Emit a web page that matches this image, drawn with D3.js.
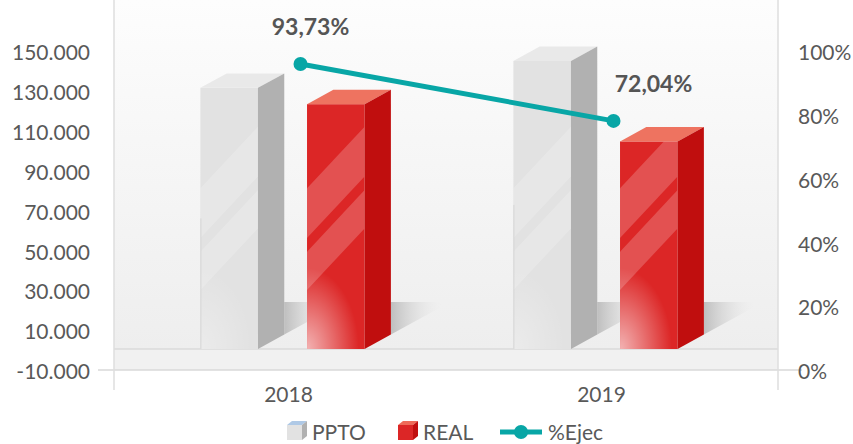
<!DOCTYPE html>
<html>
<head>
<meta charset="utf-8">
<script src="https://cdn.jsdelivr.net/npm/d3@7"></script>
<style>
body{margin:0;background:#fff;}
svg{display:block;font-family:Lato,"Open Sans",sans-serif;}
</style>
</head>
<body>
<div id="chart"></div>
<script>
// chart data
var years = ["2018", "2019"];
var series = ["PPTO", "REAL"];
var ppto = [131000, 144500];
var real = [122800, 104100];
var ejec = [0.9373, 0.7204];
var ejecLabels = ["93,73%", "72,04%"];
var leftTicks = [-10000, 10000, 30000, 50000, 70000, 90000, 110000, 130000, 150000];
var rightTicks = [0, 0.2, 0.4, 0.6, 0.8, 1];

var width = 853, height = 444;
var wallL = 114, wallR = 778, floorTop = 349, floorBot = 370;
var depthX = 26.3, depthY = 14.4;
var shadowTop = 302;
var textColor = "#595959";

var colors = {
    PPTO: {front: "#e2e2e2", top: "#e9e9e9", side: "#b1b1b1", icon: "#afc9e6"},
    REAL: {front: "#dc2626", top: "#ee7360", side: "#c00e0e", icon: "#ee6a58"}
};

var loc = d3.formatLocale({decimal: ",", thousands: ".", grouping: [3], currency: ["$", ""], minus: "-"});
var fmt = loc.format(",.0f");

var svg = d3.select("#chart").append("svg")
    .attr("width", width)
    .attr("height", height);

var defs = svg.append("defs");

var wallGrad = defs.append("linearGradient").attr("id", "wall")
    .attr("x1", 0).attr("y1", 0).attr("x2", 0).attr("y2", 1);
wallGrad.append("stop").attr("offset", 0).attr("stop-color", "#fdfdfd");
wallGrad.append("stop").attr("offset", 1).attr("stop-color", "#eeeeee");

var shadowGrad = defs.append("linearGradient").attr("id", "shadow")
    .attr("x1", 0).attr("y1", 0).attr("x2", 1).attr("y2", 0);
shadowGrad.append("stop").attr("offset", 0).attr("stop-color", "#bcbcbc").attr("stop-opacity", 0.95);
shadowGrad.append("stop").attr("offset", 0.85).attr("stop-color", "#e8e8e8").attr("stop-opacity", 0);

var glow = defs.append("radialGradient").attr("id", "glow")
    .attr("cx", 0).attr("cy", 1).attr("r", 1).attr("fx", 0).attr("fy", 1);
glow.append("stop").attr("offset", 0).attr("stop-color", "#fff").attr("stop-opacity", 0.65);
glow.append("stop").attr("offset", 0.9).attr("stop-color", "#fff").attr("stop-opacity", 0);

// scales
var yScale = d3.scaleLinear().domain([-10000, 150000]).range([372, 53]);
var yPct = d3.scaleLinear().domain([0, 1]).range([372, 53]);
// the 3d line sits further back, so it is projected differently
var yLine = d3.scaleLinear().domain([0, 1]).range([310, 47.5]);
var xScale = d3.scaleBand().domain(years).range([139, 765]);
var x1 = d3.scaleBand().domain(series).range([-95.1, 69.1]).paddingInner(0.46);
var baseShift = yScale(0) - floorTop;

// walls and floor
svg.append("rect").attr("x", wallL).attr("y", 0)
    .attr("width", wallR - wallL).attr("height", floorTop)
    .attr("fill", "url(#wall)");
svg.append("rect").attr("x", wallL).attr("y", floorTop)
    .attr("width", wallR - wallL).attr("height", floorBot - floorTop)
    .attr("fill", "#f1f1f1");
svg.append("line").attr("x1", wallL).attr("x2", wallR)
    .attr("y1", floorTop).attr("y2", floorTop)
    .attr("stroke", "#dadada").attr("stroke-width", 1.5);
svg.append("line").attr("x1", 98).attr("x2", 802)
    .attr("y1", floorBot).attr("y2", floorBot)
    .attr("stroke", "#d9d9d9").attr("stroke-width", 1.5);
[wallL, wallR].forEach(function(x){
    svg.append("line").attr("x1", x).attr("x2", x)
        .attr("y1", 0).attr("y2", 390)
        .attr("stroke", "#dedede").attr("stroke-width", 1.5);
});

var rows = [];
years.forEach(function(y, i){
    rows.push({year: y, key: "PPTO", value: ppto[i]});
    rows.push({year: y, key: "REAL", value: real[i]});
});

function barGeom(d){
    var x0 = xScale(d.year) + xScale.bandwidth() / 2 + x1(d.key);
    return {x0: x0, w: x1.bandwidth(), top: yScale(d.value) - baseShift, bot: floorTop};
}

// floor shadows behind each bar
svg.append("g").selectAll("polygon")
    .data(rows)
    .enter().append("polygon")
    .attr("points", function(d){
        var g = barGeom(d);
        var xs = g.x0 + g.w + depthX;
        var yb = g.bot - depthY;
        var len = (yb - shadowTop) * depthX / depthY;
        return [[xs, yb], [xs, shadowTop], [xs + len, shadowTop]].join(" ");
    })
    .attr("fill", "url(#shadow)");

// bars
var bars = svg.append("g").selectAll("g")
    .data(rows)
    .enter().append("g");

bars.each(function(d, i){
    var g = barGeom(d);
    var el = d3.select(this);
    var c = colors[d.key];
    var clipId = "clip" + i;
    defs.append("clipPath").attr("id", clipId)
        .append("rect").attr("x", g.x0).attr("y", g.top)
        .attr("width", g.w).attr("height", g.bot - g.top);

    el.append("rect").attr("x", g.x0).attr("y", g.top)
        .attr("width", g.w).attr("height", g.bot - g.top)
        .attr("fill", c.front);

    // glossy diagonal stripes
    var slope = 1.07;
    var stripes = [[111, 160.7], [59, 97.3]];
    var front = el.append("g").attr("clip-path", "url(#" + clipId + ")");
    stripes.forEach(function(s){
        front.append("polygon")
            .attr("points", [
                [g.x0, g.bot - s[0]],
                [g.x0 + g.w, g.bot - s[0] - g.w * slope],
                [g.x0 + g.w, g.bot - s[1] - g.w * slope],
                [g.x0, g.bot - s[1]]
            ].join(" "))
            .attr("fill", "#fff").attr("opacity", d.key == "REAL" ? 0.2 : 0.2);
    });
    front.append("rect").attr("x", g.x0).attr("y", g.bot - 90)
        .attr("width", g.w).attr("height", 90)
        .attr("fill", "url(#glow)")
        .attr("opacity", d.key == "REAL" ? 1 : 0.5);

    if (d.key == "PPTO") {
        el.append("line").attr("x1", g.x0 + 0.5).attr("x2", g.x0 + 0.5)
            .attr("y1", (g.top + g.bot) / 2).attr("y2", g.bot)
            .attr("stroke", "#d6d6d6");
    }

    el.append("polygon")
        .attr("points", [[g.x0, g.top], [g.x0 + g.w, g.top],
            [g.x0 + g.w + depthX, g.top - depthY], [g.x0 + depthX, g.top - depthY]].join(" "))
        .attr("fill", c.top);
    el.append("polygon")
        .attr("points", [[g.x0 + g.w, g.top], [g.x0 + g.w + depthX, g.top - depthY],
            [g.x0 + g.w + depthX, g.bot - depthY], [g.x0 + g.w, g.bot]].join(" "))
        .attr("fill", c.side);
});

// axes
var axL = svg.append("g").attr("transform", "translate(" + wallL + ",0)")
    .call(d3.axisLeft(yScale).tickValues(leftTicks).tickFormat(fmt).tickSize(0).tickPadding(24));
var axR = svg.append("g").attr("transform", "translate(" + wallR + ",0)")
    .call(d3.axisRight(yPct).tickValues(rightTicks).tickFormat(d3.format(".0%")).tickSize(0).tickPadding(20));
var axB = svg.append("g").attr("transform", "translate(-7," + floorBot + ")")
    .call(d3.axisBottom(xScale).tickSize(0).tickPadding(17));
[axL, axR, axB].forEach(function(a){
    a.select(".domain").remove();
    a.selectAll("text").attr("fill", textColor)
        .style("font-size", "21px").style("font-family", "Lato, sans-serif");
});

// execution line
var pts = years.map(function(y, i){
    return {year: y, value: ejec[i], label: ejecLabels[i]};
});
var lineX = function(d){ return xScale(d.year) + xScale.bandwidth() / 2 + 5; };
var line = d3.line()
    .x(lineX)
    .y(function(d){ return yLine(d.value); });

svg.append("path")
    .datum(pts)
    .attr("d", line)
    .attr("fill", "none")
    .attr("stroke", "#08a6a6")
    .attr("stroke-width", 5);

svg.append("g").selectAll("circle")
    .data(pts)
    .enter().append("circle")
    .attr("cx", lineX)
    .attr("cy", function(d){ return yLine(d.value); })
    .attr("r", 7)
    .attr("fill", "#08a6a6");

var labelDx = [10, 40];
svg.append("g").selectAll("text")
    .data(pts)
    .enter().append("text")
    .attr("x", function(d, i){ return lineX(d) + labelDx[i]; })
    .attr("y", function(d){ return yLine(d.value) - 37; })
    .attr("dy", "0.35em")
    .attr("text-anchor", "middle")
    .attr("fill", "#555")
    .style("font-size", "23px")
    .style("font-weight", "bold")
    .text(function(d){ return d.label; });

// legend
var legend = svg.append("g");
var legendX = {PPTO: 287, REAL: 398};
series.forEach(function(k){
    var c = colors[k];
    var lx = legendX[k], s = 15, dx = 5, dy = 4, ly = 440;
    var li = legend.append("g");
    li.append("rect").attr("x", lx).attr("y", ly - s).attr("width", s).attr("height", s).attr("fill", c.front);
    li.append("polygon").attr("points", [[lx, ly - s], [lx + s, ly - s], [lx + s + dx, ly - s - dy], [lx + dx, ly - s - dy]].join(" "))
        .attr("fill", c.icon);
    li.append("polygon").attr("points", [[lx + s, ly - s], [lx + s + dx, ly - s - dy], [lx + s + dx, ly - dy], [lx + s, ly]].join(" "))
        .attr("fill", c.side);
    li.append("text").attr("x", lx + s + dx + 5).attr("y", ly)
        .attr("fill", textColor).style("font-size", "21px").text(k);
});
legend.append("line").attr("x1", 500).attr("x2", 542).attr("y1", 432).attr("y2", 432)
    .attr("stroke", "#08a6a6").attr("stroke-width", 5);
legend.append("circle").attr("cx", 521).attr("cy", 432).attr("r", 7).attr("fill", "#08a6a6");
legend.append("text").attr("x", 548).attr("y", 440)
    .attr("fill", textColor).style("font-size", "21px").text("%Ejec");
</script>
</body>
</html>
